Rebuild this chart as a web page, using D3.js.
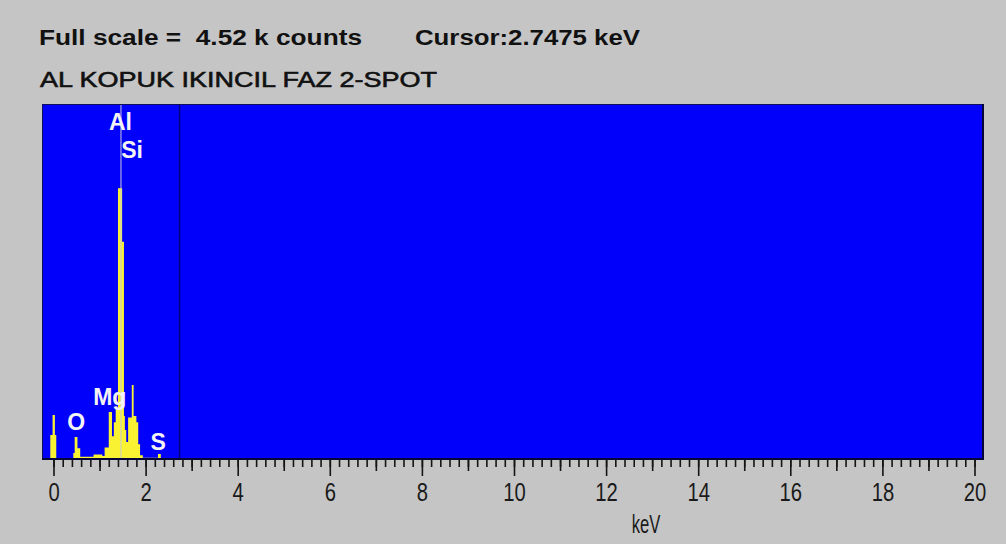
<!DOCTYPE html>
<html>
<head>
<meta charset="utf-8">
<script src="https://cdn.jsdelivr.net/npm/d3@7"></script>
<style>
  html, body { margin: 0; padding: 0; background: #c5c5c5; }
  svg { display: block; }
  text { font-family: "Liberation Sans", Arial, sans-serif; }
</style>
</head>
<body>
<svg id="chart" width="1006" height="544"></svg>
<script>
// EDS spectrum: channel start energy (keV) and counts held until the next entry
const spectrumKeV = [-0.26, -0.07, -0.02, 0.03, 0.06, 0.43, 0.46, 0.52, 0.58, 0.87,
  1.06, 1.11, 1.20, 1.27, 1.31, 1.35, 1.40, 1.49, 1.53, 1.55,
  1.58, 1.62, 1.70, 1.74, 1.80, 1.84, 1.88, 1.94, 2.27, 2.33,
  4.70, 5.80, 20.3];
const spectrumCounts = [0, 318, 571, 318, 25, 90, 292, 150, 40, 70,
  50, 160, 610, 300, 480, 640, 3450, 2770, 560, 380,
  230, 540, 952, 560, 480, 200, 60, 28, 76, 25,
  12, 0, 0];

// Element markers: symbol, line energy (keV), label level (counts)
const elements = ["O", "Mg", "Al", "Si", "S"];
const elementKeV = [0.525, 1.254, 1.487, 1.740, 2.307];
const elementLabelCounts = [381, 698, 4190, 3834, 127];

// Axis ticks (keV)
const majorTicks = [0, 2, 4, 6, 8, 10, 12, 14, 16, 18, 20];
const midTicks = [1, 3, 5, 7, 9, 11, 13, 15, 17, 19];

const fullScaleK = 4.52;      // full scale in k counts
const cursorKeV = 2.7475;
const title = "AL KOPUK IKINCIL FAZ 2-SPOT";

const svg = d3.select("#chart");
const plot = { left: 42, top: 104, right: 984, bottom: 460 };

const x = d3.scaleLinear().domain([0, 20]).range([53.5, 974.5]);
const y = d3.scaleLinear().domain([0, fullScaleK * 1000]).range([plot.bottom, plot.top]);

// Header lines
svg.append("text")
  .attr("x", 39).attr("y", 45)
  .attr("font-size", 22).attr("font-weight", "bold").attr("fill", "#111")
  .attr("textLength", 323).attr("lengthAdjust", "spacingAndGlyphs")
  .style("white-space", "pre")
  .text(`Full scale =  ${fullScaleK.toFixed(2)} k counts`);

svg.append("text")
  .attr("x", 415).attr("y", 45)
  .attr("font-size", 22).attr("font-weight", "bold").attr("fill", "#111")
  .attr("textLength", 225).attr("lengthAdjust", "spacingAndGlyphs")
  .text(`Cursor:${cursorKeV} keV`);

svg.append("text")
  .attr("x", 40).attr("y", 87)
  .attr("font-size", 22).attr("fill", "#111")
  .attr("stroke", "#111").attr("stroke-width", 0.6)
  .attr("textLength", 397).attr("lengthAdjust", "spacingAndGlyphs")
  .text(title);

// Plot background
svg.append("rect")
  .attr("x", plot.left).attr("y", plot.top)
  .attr("width", plot.right - plot.left).attr("height", plot.bottom - plot.top)
  .attr("fill", "#0000fb");

svg.append("clipPath").attr("id", "plotClip")
  .append("rect")
  .attr("x", plot.left).attr("y", plot.top)
  .attr("width", plot.right - plot.left).attr("height", plot.bottom - plot.top);

const inner = svg.append("g").attr("clip-path", "url(#plotClip)");

// Spectrum histogram
const spectrum = spectrumKeV.map((e, i) => ({ e, c: spectrumCounts[i] }));
const area = d3.area()
  .x(d => x(d.e))
  .y0(y(0))
  .y1(d => y(d.c))
  .curve(d3.curveStepAfter);

inner.append("path")
  .datum(spectrum)
  .attr("d", area)
  .attr("fill", "#f8f232");

// Al marker line
inner.append("line")
  .attr("x1", x(elementKeV[2]) - 1).attr("x2", x(elementKeV[2]) - 1)
  .attr("y1", y(fullScaleK * 1000)).attr("y2", y(0))
  .attr("stroke", "#c9c9dc").attr("stroke-width", 1);

// Cursor line
inner.append("line")
  .attr("x1", x(cursorKeV) - 0.5).attr("x2", x(cursorKeV) - 0.5)
  .attr("y1", plot.top).attr("y2", plot.bottom)
  .attr("stroke", "#00007a").attr("stroke-width", 1.5);

// Element labels
inner.selectAll("text.el")
  .data(elements)
  .join("text")
  .attr("class", "el")
  .attr("x", (d, i) => x(elementKeV[i]) - 1.5)
  .attr("y", (d, i) => y(elementLabelCounts[i]))
  .attr("text-anchor", "middle")
  .attr("font-size", 23).attr("font-weight", "bold")
  .attr("fill", "#f4f4f4")
  .text(d => d);

// Plot frame: thin dark top/left, heavier shadow right/bottom
svg.append("path")
  .attr("d", `M${plot.left + 0.5},${plot.bottom} V${plot.top + 0.5} H${plot.right}`)
  .attr("fill", "none").attr("stroke", "#10105a").attr("stroke-width", 1);
svg.append("path")
  .attr("d", `M${plot.right - 1},${plot.top} V${plot.bottom - 1} H${plot.left}`)
  .attr("fill", "none").attr("stroke", "#05053a").attr("stroke-width", 2);

// Axis ticks
const axisG = svg.append("g").attr("transform", `translate(0,${plot.bottom})`);

const minorTicks = d3.range(0, 100.5, 1).map(i => i * 0.2);
axisG.append("g")
  .call(d3.axisBottom(x).tickValues(minorTicks).tickSize(7).tickFormat(""));
axisG.append("g")
  .call(d3.axisBottom(x).tickValues(midTicks).tickSize(11).tickFormat(""));
const majorAxis = axisG.append("g")
  .call(d3.axisBottom(x).tickValues(majorTicks).tickSize(16).tickPadding(7).tickFormat(d3.format("d")));

axisG.selectAll(".domain").remove();
axisG.selectAll(".tick line").attr("stroke", "#151515").attr("stroke-width", 1.6);
majorAxis.selectAll("text")
  .attr("font-size", 22)
  .attr("fill", "#1a1a1a")
  .style("font-family", "'Liberation Sans', Arial, sans-serif")
  .style("transform-box", "fill-box")
  .style("transform-origin", "center top")
  .style("transform", "scale(0.92,1.14)");

// Axis title
svg.append("text")
  .attr("transform", "translate(646,533) scale(0.64,1)")
  .attr("text-anchor", "middle")
  .attr("font-size", 26).attr("fill", "#1a1a1a")
  .text("keV");
</script>
</body>
</html>
